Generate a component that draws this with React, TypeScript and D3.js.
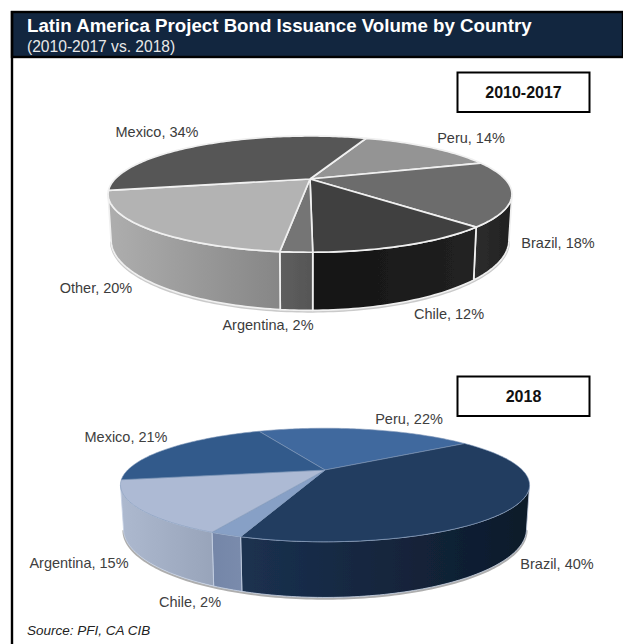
import React from "react";
import * as d3 from "d3";

const W = 623, H = 644;

const countriesA = ["Peru", "Brazil", "Chile", "Argentina", "Other", "Mexico"];
const valuesA = [14, 18, 12, 2, 20, 34];
const topColorsA = ["#949494", "#6c6c6c", "#414141", "#757575", "#b3b3b3", "#565656"];
const sideFromA = ["#666", "#2e2e2e", "#131313", "#5e5e5e", "#aeaeae", "#444"];
const sideToA = ["#666", "#202020", "#222222", "#565656", "#868686", "#444"];
const labelAnchorsA: [number, number][] = [[471, 143], [558, 247.5], [449, 319], [268, 330], [96, 293], [157, 136.5]];

const countriesB = ["Peru", "Brazil", "Chile", "Argentina", "Mexico"];
const valuesB = [22, 40, 2, 15, 21];
const topColorsB = ["#41699e", "#203c60", "#87a0c6", "#adbad4", "#315a8b"];
const sideFromB = ["#345", "#1b3150", "#7486a8", "#adb9cf", "#345"];
const sideToB = ["#345", "#0d1a2a", "#7a8bac", "#98a4ba", "#345"];
const labelAnchorsB: [number, number][] = [[409, 424], [557, 569], [190, 606.5], [79, 568], [126, 442]];

type PieCfg = {
  id: string; cats: string[]; vals: number[]; tops: string[]; from: string[]; to: string[];
  labels: [number, number][]; startDeg: number;
  cx: number; cy: number; R: number; S: number; k: number; depth: number;
  edge: string; edgeW: number; topEdge: string; topEdgeW: number; halo: string; text: string;
};

const pies: PieCfg[] = [
  { id: "a", cats: countriesA, vals: valuesA, tops: topColorsA, from: sideFromA, to: sideToA, labels: labelAnchorsA,
    startDeg: 21, cx: 310, cy: 179, R: 195, S: 54.2, k: 0.26, depth: 43,
    edge: "#f0f0f0", edgeW: 1.7, topEdge: "#f0f0f0", topEdgeW: 1.7, halo: "#bdbdbd", text: "#3c3c3c" },
  { id: "b", cats: countriesB, vals: valuesB, tops: topColorsB, from: sideFromB, to: sideToB, labels: labelAnchorsB,
    startDeg: -24.5, cx: 325, cy: 470, R: 197.3, S: 52.8, k: 0.264, depth: 41,
    edge: "#c6d2e4", edgeW: 0.8, topEdge: "#7f97b8", topEdgeW: 0.6, halo: "#9a9a9a", text: "#404040" },
];

function Pie({ p }: { p: PieCfg }) {
  const arcs = d3.pie<number>().sort(null).startAngle((p.startDeg * Math.PI) / 180)
    .endAngle((p.startDeg * Math.PI) / 180 + 2 * Math.PI)(p.vals);
  const top = (t: number): [number, number] => {
    const X = Math.sin(t), Y = -Math.cos(t), w = 1 - p.k * Y;
    return [p.cx + (p.R * X) / w, p.cy + (p.S * Y) / w];
  };
  const bottom = (t: number): [number, number] => {
    const [x, y] = top(t), Y = -Math.cos(t), w = 1 - p.k * Y;
    return [p.cx + (x - p.cx) * 0.985, y + p.depth / w];
  };
  const line = d3.line();
  const sample = (a: number, b: number) => {
    const n = Math.max(2, Math.ceil(Math.abs(b - a) / 0.02));
    return d3.range(n + 1).map((i) => a + ((b - a) * i) / n);
  };
  const vis0 = Math.acos(-p.k);
  const vis1 = 2 * Math.PI - vis0;
  const sides = arcs.map((a, i) => {
    const norm = Math.floor(a.startAngle / (2 * Math.PI)) * 2 * Math.PI;
    const s = Math.max(a.startAngle - norm, vis0);
    const e = Math.min(a.endAngle - norm, vis1);
    if (e <= s) return null;
    const ts = sample(s, e);
    return { i, d: line([...ts.map(top), ...ts.slice().reverse().map(bottom)])! + "Z" };
  }).filter(Boolean) as { i: number; d: string }[];
  const rim = sample(vis0, vis1);
  return (
    <g>
      <defs>
        {p.cats.map((_, i) => (
          <linearGradient key={i} id={`g${p.id}${i}`} x1="0" x2="1" y1="0" y2="0">
            <stop offset="0" stopColor={p.from[i]} />
            <stop offset="1" stopColor={p.to[i]} />
          </linearGradient>
        ))}
      </defs>
      <g filter="url(#soft)">
        <path d={line(rim.map((t) => { const [x, y] = bottom(t); return [x, y + 1.2] as [number, number]; }))!}
          fill="none" stroke={p.halo} strokeWidth={2.2} opacity={0.8} />
        {sides.map((s) => (
          <path key={s.i} d={s.d} fill={`url(#g${p.id}${s.i})`} stroke={p.edge} strokeWidth={p.edgeW} strokeLinejoin="round" />
        ))}
        {arcs.map((a, i) => {
          const ts = sample(a.startAngle, a.endAngle);
          return (
            <path key={i} d={line([[p.cx, p.cy], ...ts.map(top)])! + "Z"} fill={p.tops[i]}
              stroke={p.topEdge} strokeWidth={p.topEdgeW} strokeLinejoin="round" />
          );
        })}
      </g>
      {p.cats.map((c, i) => (
        <text key={c} x={p.labels[i][0]} y={p.labels[i][1]} textAnchor="middle" fontSize={14.5} fill={p.text}>
          {`${c}, ${p.vals[i]}%`}
        </text>
      ))}
    </g>
  );
}

const titleMain = "Latin America Project Bond Issuance Volume by Country";
const titleSub = "(2010-2017 vs. 2018)";
const source = "Source: PFI, CA CIB";
const boxes: { label: string; y: number }[] = [{ label: "2010-2017", y: 72.5 }, { label: "2018", y: 376.5 }];

export default function App() {
  return (
    <svg width={W} height={H} viewBox={`0 0 ${W} ${H}`}
      style={{ position: "absolute", left: 0, top: 0, display: "block", background: "#fff" }}
      fontFamily="'Liberation Sans', Arial, sans-serif">
      <defs>
        <filter id="soft" x="-5%" y="-5%" width="110%" height="110%">
          <feGaussianBlur stdDeviation="0.45" />
        </filter>
      </defs>
      <rect x={12} y={12} width={W - 12} height={45} fill="#12263f" stroke="#000" strokeWidth={2.4} />
      <line x1={12} x2={12} y1={11} y2={H} stroke="#000" strokeWidth={2.4} />
      <text x={27} y={32} fontSize={18.7} fontWeight="bold" fill="#fff">{titleMain}</text>
      <text x={27} y={51.5} fontSize={15.6} fill="#e8e8e8">{titleSub}</text>
      {boxes.map((b) => (
        <g key={b.label}>
          <rect x={457.5} y={b.y} width={132} height={39.5} fill="#fff" stroke="#000" strokeWidth={2} />
          <text x={523.5} y={b.y + 25} textAnchor="middle" fontSize={16} fontWeight="bold" fill="#111">{b.label}</text>
        </g>
      ))}
      {pies.map((p) => <Pie key={p.id} p={p} />)}
      <text x={27} y={635} fontSize={13.5} fontStyle="italic" fill="#222">{source}</text>
    </svg>
  );
}
